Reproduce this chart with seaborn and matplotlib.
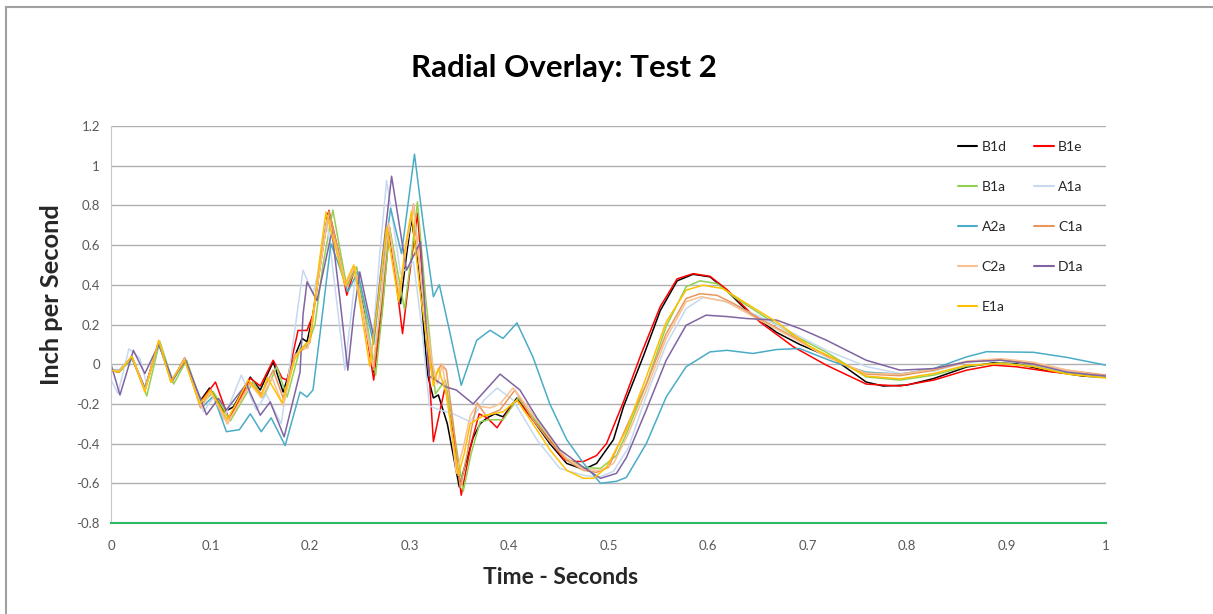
import pandas as pd
import seaborn as sns
import matplotlib.pyplot as plt
from matplotlib import font_manager
from matplotlib.lines import Line2D
from matplotlib.patches import Rectangle
from matplotlib.ticker import FuncFormatter, MultipleLocator

# (time in seconds, inch per second) for each sensor
b1d = [(0.000, -0.03), (0.008, -0.04), (0.021, 0.035), (0.034, -0.13), (0.048, 0.11), (0.061, -0.09),
       (0.074, 0.03), (0.089, -0.19), (0.099, -0.12), (0.114, -0.24), (0.123, -0.215), (0.140, -0.065),
       (0.150, -0.13), (0.163, 0.012), (0.173, -0.14), (0.183, 0.02), (0.192, 0.13), (0.197, 0.113),
       (0.203, 0.25), (0.210, 0.50), (0.218, 0.76), (0.227, 0.58), (0.236, 0.39), (0.245, 0.48),
       (0.254, 0.28), (0.264, -0.04), (0.271, 0.28), (0.279, 0.683), (0.291, 0.305), (0.297, 0.55),
       (0.302, 0.733), (0.310, 0.45), (0.318, -0.05), (0.324, -0.17), (0.329, -0.155), (0.338, -0.30),
       (0.350, -0.618), (0.357, -0.49), (0.364, -0.37), (0.371, -0.30), (0.378, -0.27), (0.386, -0.25),
       (0.394, -0.265), (0.408, -0.17), (0.424, -0.28), (0.441, -0.40), (0.458, -0.50), (0.475, -0.53),
       (0.488, -0.50), (0.505, -0.38), (0.515, -0.215), (0.535, 0.04), (0.552, 0.27), (0.569, 0.42),
       (0.585, 0.453), (0.602, 0.44), (0.619, 0.37), (0.639, 0.27), (0.669, 0.16), (0.692, 0.10),
       (0.726, 0.028), (0.759, -0.09), (0.776, -0.11), (0.800, -0.105), (0.827, -0.072), (0.860, -0.014),
       (0.887, 0.007), (0.910, 0.002), (0.944, -0.035), (0.977, -0.06), (1.000, -0.066)]

b1e = [(0.000, -0.03), (0.008, -0.04), (0.021, 0.035), (0.034, -0.12), (0.048, 0.11), (0.061, -0.09),
       (0.074, 0.03), (0.090, -0.19), (0.105, -0.09), (0.118, -0.27), (0.125, -0.22), (0.140, -0.07),
       (0.150, -0.11), (0.163, 0.02), (0.172, -0.07), (0.177, -0.08), (0.188, 0.17), (0.197, 0.17),
       (0.203, 0.25), (0.211, 0.52), (0.219, 0.775), (0.228, 0.58), (0.237, 0.348), (0.245, 0.48),
       (0.254, 0.25), (0.264, -0.08), (0.272, 0.25), (0.280, 0.688), (0.293, 0.154), (0.300, 0.45),
       (0.308, 0.76), (0.316, 0.25), (0.324, -0.39), (0.336, -0.11), (0.344, -0.35), (0.352, -0.66),
       (0.362, -0.40), (0.370, -0.25), (0.378, -0.27), (0.388, -0.32), (0.400, -0.23), (0.408, -0.18),
       (0.424, -0.28), (0.441, -0.38), (0.455, -0.48), (0.464, -0.49), (0.475, -0.49), (0.488, -0.46),
       (0.498, -0.40), (0.515, -0.19), (0.533, 0.054), (0.552, 0.29), (0.569, 0.43), (0.585, 0.456),
       (0.602, 0.443), (0.619, 0.376), (0.652, 0.213), (0.686, 0.087), (0.719, -0.005), (0.759, -0.10),
       (0.776, -0.105), (0.793, -0.11), (0.827, -0.08), (0.860, -0.03), (0.887, -0.005), (0.910, -0.013),
       (0.944, -0.038), (0.977, -0.055), (1.000, -0.056)]

b1a = [(0.000, -0.03), (0.008, -0.04), (0.022, 0.03), (0.036, -0.16), (0.049, 0.116), (0.063, -0.10),
       (0.076, 0.02), (0.091, -0.20), (0.103, -0.14), (0.120, -0.285), (0.143, -0.09), (0.153, -0.17),
       (0.1665, -0.013), (0.177, -0.165), (0.190, 0.08), (0.198, 0.10), (0.205, 0.20), (0.213, 0.50),
       (0.223, 0.776), (0.230, 0.58), (0.237, 0.39), (0.247, 0.49), (0.256, 0.25), (0.266, -0.055),
       (0.273, 0.28), (0.280, 0.69), (0.295, 0.275), (0.302, 0.55), (0.308, 0.818), (0.316, 0.35),
       (0.326, -0.15), (0.336, -0.08), (0.345, -0.35), (0.354, -0.64), (0.362, -0.45), (0.371, -0.29),
       (0.380, -0.28), (0.394, -0.28), (0.409, -0.17), (0.424, -0.265), (0.441, -0.375), (0.458, -0.475),
       (0.475, -0.52), (0.492, -0.525), (0.508, -0.46), (0.518, -0.35), (0.538, -0.10), (0.558, 0.19),
       (0.578, 0.39), (0.592, 0.42), (0.609, 0.406), (0.626, 0.339), (0.652, 0.255), (0.686, 0.146),
       (0.719, 0.06), (0.759, -0.064), (0.793, -0.08), (0.827, -0.055), (0.860, -0.01), (0.894, 0.007),
       (0.927, -0.01), (0.961, -0.047), (1.000, -0.066)]

a1a = [(0.000, -0.08), (0.007, -0.147), (0.018, 0.078), (0.029, 0.029), (0.036, -0.10), (0.048, 0.10),
       (0.061, -0.08), (0.074, 0.02), (0.093, -0.24), (0.103, -0.165), (0.113, -0.28), (0.131, -0.055),
       (0.146, -0.23), (0.156, -0.15), (0.171, -0.30), (0.180, 0.00), (0.193, 0.474), (0.203, 0.355),
       (0.210, 0.50), (0.217, 0.725), (0.226, 0.35), (0.235, -0.03), (0.246, 0.46), (0.262, 0.05),
       (0.270, 0.55), (0.277, 0.925), (0.284, 0.70), (0.291, 0.455), (0.304, 0.516), (0.312, 0.20),
       (0.320, -0.21), (0.330, -0.23), (0.344, -0.25), (0.361, -0.29), (0.375, -0.18), (0.388, -0.12),
       (0.404, -0.18), (0.428, -0.38), (0.451, -0.525), (0.475, -0.56), (0.490, -0.57), (0.505, -0.54),
       (0.520, -0.42), (0.538, -0.16), (0.558, 0.10), (0.578, 0.28), (0.595, 0.336), (0.615, 0.32),
       (0.652, 0.24), (0.686, 0.155), (0.719, 0.07), (0.759, -0.012), (0.793, -0.047), (0.827, -0.035),
       (0.860, 0.01), (0.894, 0.02), (0.927, 0.005), (0.961, -0.035), (1.000, -0.06)]

a2a = [(0.000, -0.03), (0.008, -0.03), (0.021, 0.03), (0.034, -0.12), (0.048, 0.10), (0.061, -0.08),
       (0.074, 0.02), (0.093, -0.21), (0.103, -0.16), (0.116, -0.34), (0.129, -0.33), (0.140, -0.25),
       (0.151, -0.34), (0.161, -0.27), (0.175, -0.41), (0.190, -0.14), (0.197, -0.165), (0.203, -0.13),
       (0.210, 0.15), (0.221, 0.607), (0.229, 0.50), (0.238, 0.365), (0.248, 0.465), (0.264, 0.10),
       (0.272, 0.45), (0.281, 0.785), (0.292, 0.557), (0.305, 1.058), (0.314, 0.70), (0.324, 0.34),
       (0.330, 0.40), (0.341, 0.15), (0.352, -0.106), (0.3675, 0.12), (0.381, 0.171), (0.394, 0.13),
       (0.408, 0.208), (0.424, 0.037), (0.441, -0.20), (0.458, -0.38), (0.475, -0.50), (0.492, -0.60),
       (0.508, -0.59), (0.518, -0.57), (0.538, -0.40), (0.558, -0.165), (0.578, -0.013), (0.602, 0.062),
       (0.619, 0.07), (0.645, 0.054), (0.669, 0.074), (0.692, 0.079), (0.726, 0.012), (0.759, -0.04),
       (0.793, -0.05), (0.827, -0.022), (0.860, 0.037), (0.880, 0.063), (0.927, 0.06), (0.961, 0.034),
       (1.000, -0.005)]

c1a = [(0.000, -0.03), (0.008, -0.035), (0.021, 0.04), (0.034, -0.13), (0.048, 0.115), (0.061, -0.09),
       (0.074, 0.03), (0.090, -0.22), (0.100, -0.13), (0.117, -0.30), (0.140, -0.09), (0.151, -0.15),
       (0.163, -0.03), (0.173, -0.17), (0.185, 0.05), (0.195, 0.08), (0.200, 0.11), (0.210, 0.50),
       (0.219, 0.77), (0.228, 0.58), (0.236, 0.39), (0.245, 0.49), (0.254, 0.25), (0.264, -0.03),
       (0.271, 0.30), (0.279, 0.70), (0.290, 0.33), (0.297, 0.60), (0.304, 0.807), (0.312, 0.40),
       (0.324, -0.08), (0.332, 0.00), (0.337, -0.03), (0.344, -0.30), (0.351, -0.62), (0.358, -0.45),
       (0.362, -0.33), (0.368, -0.195), (0.377, -0.26), (0.391, -0.23), (0.406, -0.13), (0.424, -0.28),
       (0.441, -0.39), (0.458, -0.485), (0.475, -0.535), (0.488, -0.545), (0.500, -0.52), (0.518, -0.316),
       (0.538, -0.10), (0.558, 0.154), (0.578, 0.331), (0.592, 0.355), (0.609, 0.347), (0.626, 0.305),
       (0.652, 0.23), (0.686, 0.137), (0.719, 0.04), (0.759, -0.05), (0.793, -0.058), (0.827, -0.03),
       (0.860, 0.012), (0.894, 0.024), (0.927, 0.004), (0.961, -0.03), (1.000, -0.055)]

c2a = [(0.000, -0.03), (0.008, -0.035), (0.021, 0.04), (0.034, -0.135), (0.048, 0.12), (0.061, -0.09),
       (0.074, 0.03), (0.091, -0.22), (0.100, -0.14), (0.117, -0.30), (0.140, -0.10), (0.151, -0.17),
       (0.162, -0.07), (0.173, -0.21), (0.185, 0.04), (0.192, 0.08), (0.198, 0.08), (0.210, 0.48),
       (0.218, 0.75), (0.227, 0.58), (0.236, 0.40), (0.245, 0.49), (0.254, 0.25), (0.263, -0.01),
       (0.271, 0.30), (0.279, 0.71), (0.290, 0.35), (0.297, 0.60), (0.304, 0.80), (0.312, 0.40),
       (0.3225, 0.02), (0.328, -0.10), (0.333, 0.00), (0.340, -0.25), (0.347, -0.55), (0.354, -0.42),
       (0.361, -0.26), (0.367, -0.21), (0.381, -0.22), (0.391, -0.20), (0.404, -0.12), (0.424, -0.25),
       (0.441, -0.37), (0.458, -0.475), (0.475, -0.53), (0.492, -0.535), (0.505, -0.50), (0.520, -0.35),
       (0.538, -0.13), (0.558, 0.13), (0.578, 0.315), (0.593, 0.34), (0.619, 0.314), (0.652, 0.222),
       (0.686, 0.13), (0.719, 0.037), (0.759, -0.045), (0.793, -0.05), (0.827, -0.025), (0.860, 0.015),
       (0.894, 0.028), (0.927, 0.01), (0.961, -0.03), (1.000, -0.06)]

d1a = [(0.000, 0.00), (0.009, -0.155), (0.0225, 0.07), (0.034, -0.047), (0.048, 0.10), (0.062, -0.08),
       (0.075, 0.02), (0.096, -0.255), (0.108, -0.173), (0.116, -0.23), (0.136, -0.10), (0.150, -0.257),
       (0.160, -0.19), (0.174, -0.366), (0.190, -0.04), (0.193, 0.25), (0.197, 0.415), (0.207, 0.32),
       (0.222, 0.667), (0.230, 0.33), (0.238, -0.03), (0.244, 0.25), (0.250, 0.465), (0.264, 0.138),
       (0.273, 0.55), (0.282, 0.947), (0.297, 0.473), (0.311, 0.616), (0.320, -0.06), (0.337, -0.115),
       (0.347, -0.13), (0.364, -0.20), (0.391, -0.05), (0.411, -0.13), (0.428, -0.27), (0.451, -0.43),
       (0.475, -0.52), (0.492, -0.575), (0.508, -0.55), (0.518, -0.47), (0.538, -0.23), (0.558, 0.02),
       (0.578, 0.196), (0.598, 0.247), (0.619, 0.24), (0.639, 0.23), (0.669, 0.222), (0.692, 0.18),
       (0.719, 0.121), (0.759, 0.02), (0.793, -0.03), (0.827, -0.022), (0.860, 0.012), (0.894, 0.02),
       (0.927, 0.00), (0.961, -0.04), (1.000, -0.06)]

e1a = [(0.000, -0.03), (0.008, -0.04), (0.021, 0.04), (0.034, -0.14), (0.048, 0.12), (0.060, -0.09),
       (0.074, 0.02), (0.089, -0.20), (0.100, -0.13), (0.117, -0.28), (0.138, -0.08), (0.151, -0.16),
       (0.157, -0.067), (0.172, -0.195), (0.185, 0.03), (0.195, 0.10), (0.200, 0.12), (0.209, 0.50),
       (0.216, 0.767), (0.226, 0.58), (0.235, 0.40), (0.244, 0.50), (0.252, 0.25), (0.260, -0.01),
       (0.268, 0.30), (0.277, 0.69), (0.289, 0.315), (0.296, 0.60), (0.302, 0.77), (0.311, 0.35),
       (0.324, -0.11), (0.329, -0.02), (0.337, -0.15), (0.349, -0.56), (0.355, -0.45), (0.361, -0.30),
       (0.374, -0.26), (0.394, -0.24), (0.408, -0.18), (0.424, -0.30), (0.441, -0.43), (0.458, -0.535),
       (0.475, -0.575), (0.485, -0.575), (0.498, -0.52), (0.518, -0.33), (0.538, -0.064), (0.558, 0.213),
       (0.578, 0.373), (0.595, 0.398), (0.615, 0.381), (0.639, 0.305), (0.669, 0.213), (0.702, 0.09),
       (0.726, 0.03), (0.759, -0.06), (0.793, -0.074), (0.827, -0.047), (0.860, -0.005), (0.894, 0.003),
       (0.927, -0.012), (0.961, -0.05), (1.000, -0.07)]

series_names = ["B1d", "B1e", "B1a", "A1a", "A2a", "C1a", "C2a", "D1a", "E1a"]
series_points = [b1d, b1e, b1a, a1a, a2a, c1a, c2a, d1a, e1a]
colors = {"B1d": "#000000", "B1e": "#FF0000", "B1a": "#92D050", "A1a": "#C6D9F1", "A2a": "#4BACC6",
          "C1a": "#E8975C", "C2a": "#FAC090", "D1a": "#8064A2", "E1a": "#FFC000"}

rows = [(name, t, v) for name, pts in zip(series_names, series_points) for t, v in pts]
df = pd.DataFrame(rows, columns=["series", "time", "ips"])

sns.set_style("white")
avail = {f.name for f in font_manager.fontManager.ttflist}
main_font = "Liberation Sans Narrow" if "Liberation Sans Narrow" in avail else "Lato"
plt.rcParams["font.family"] = [main_font, "DejaVu Sans"]
plt.rcParams["axes.unicode_minus"] = False

W, H = 1213, 614
fig = plt.figure(figsize=(W / 100, H / 100), dpi=100)
ax = fig.add_axes([111 / W, 1 - 523 / H, 995 / W, 397 / H])

sns.lineplot(data=df, x="time", y="ips", hue="series", hue_order=series_names, palette=colors,
             estimator=None, sort=False, legend=False, linewidth=1.1, ax=ax)

ax.set_xlim(0, 1)
ax.set_ylim(-0.8, 1.2)
ax.xaxis.set_major_locator(MultipleLocator(0.1))
ax.yaxis.set_major_locator(MultipleLocator(0.2))
fmt = FuncFormatter(lambda v, p: "%g" % round(v, 2))
ax.xaxis.set_major_formatter(fmt)
ax.yaxis.set_major_formatter(fmt)
ax.grid(axis="y", color="#B0B0B0", linewidth=1.0)
ax.set_axisbelow(True)
for s in ["top", "right"]:
    ax.spines[s].set_visible(False)
ax.spines["left"].set_color("#C8C8C8")
ax.spines["bottom"].set_color("#2EB862")
ax.spines["bottom"].set_linewidth(1.5)
ax.tick_params(axis="x", colors="#2EB862", length=4, width=1.2, direction="out", pad=8,
               labelcolor="#595959", labelsize=9.5)
ax.tick_params(axis="y", colors="#C8C8C8", length=4, width=1, direction="out", pad=4,
               labelcolor="#595959", labelsize=9.5)
ax.set_xlabel("")
ax.set_ylabel("")

fig.text(564 / W, 1 - 68 / H, "Radial Overlay: Test 2", ha="center", va="center",
         fontsize=22.5, fontweight="bold", color="#000000")
fig.text(52 / W, 1 - 295 / H, "Inch per Second", ha="center", va="center", rotation=90,
         fontsize=18.3, fontweight="bold")
fig.text(561 / W, 1 - 577 / H, "Time - Seconds", ha="center", va="center",
         fontsize=16.5, fontweight="bold")

# legend laid out row by row like the original: two columns
leg_order = ["B1d", "B1a", "A2a", "C2a", "E1a", "B1e", "A1a", "C1a", "D1a"]
handles = [Line2D([], [], color=colors[n], linewidth=1.5) for n in leg_order]
fig.legend(handles, leg_order, loc="upper left", bbox_to_anchor=(958 / W, 1 - 141 / H),
           ncol=2, frameon=False, fontsize=10, borderpad=0, borderaxespad=0,
           handlelength=1.4, handletextpad=0.3, columnspacing=2.0, labelspacing=2.02)

# outer chart frame (only left and top edges visible)
fig.patches.append(Rectangle((5.5 / W, -0.1), 1.5, 1.1 - 7.5 / H, transform=fig.transFigure,
                             fill=False, edgecolor="#A0A0A0", linewidth=1.5))

fig.savefig("out.png", dpi=100)
